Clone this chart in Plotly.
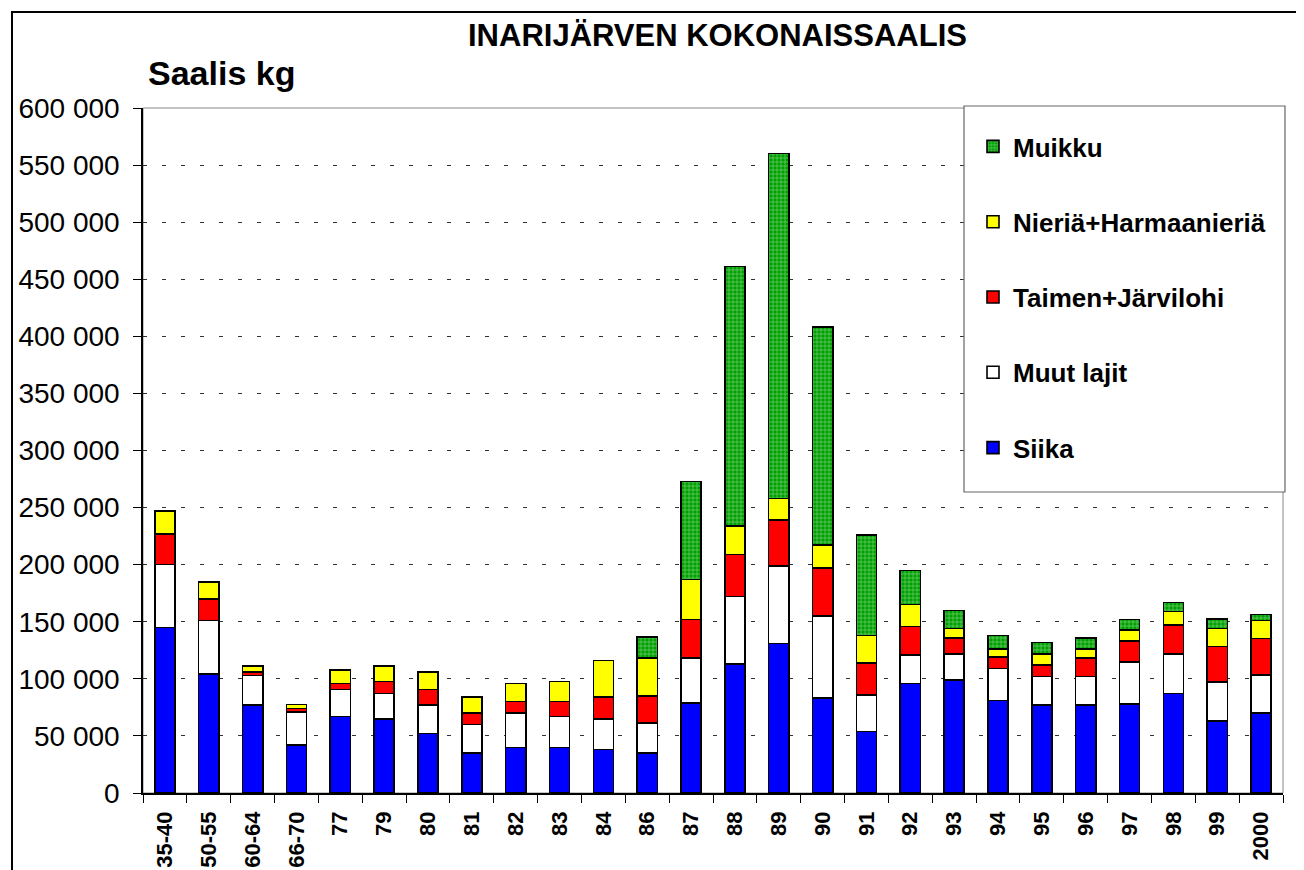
import plotly.graph_objects as go

# ─── Data ─────────────────────────────────────────────────────────────────────

YEARS = ['35-40', '50-55', '60-64', '66-70', '77', '79', '80', '81', '82', '83',
         '84', '86', '87', '88', '89', '90', '91', '92', '93', '94', '95', '96',
         '97', '98', '99', '2000']

SIIKA = [145000, 104000, 77000, 42000, 67000, 65000, 52000, 35000, 40000, 40000,
         38000, 35000, 79000, 113000, 131000, 83000, 54000, 96000, 99000, 81000,
         77000, 77000, 78000, 87000, 63000, 70000]
MUUT = [55000, 47000, 26000, 29000, 23500, 22000, 25000, 25000, 30000, 27000,
        27000, 26500, 39000, 59000, 68000, 72000, 32000, 25000, 23000, 28000,
        25000, 25000, 37000, 35000, 34000, 33500]
TAIMEN = [27000, 19000, 3000, 3000, 5500, 10500, 13500, 10000, 10000, 13000,
          19000, 23500, 34000, 37000, 40000, 42000, 28000, 25000, 14000, 10000,
          10000, 16000, 18000, 25000, 31500, 32000]
NIERIA = [20000, 15000, 5000, 3500, 12000, 13500, 15500, 14000, 16000, 17500,
          32000, 33500, 35000, 25000, 19000, 20000, 24000, 19000, 8000, 7000,
          10000, 8000, 10000, 12000, 15500, 15500]
MUIKKU = [None, None, None, None, None, None, None, None, None, None,
          None, 18000, 86000, 227000, 302000, 191000, 88000, 30000, 16000, 12000,
          10000, 10000, 9000, 8000, 8500, 5500]

Y_TICKS = [0, 50000, 100000, 150000, 200000, 250000, 300000, 350000, 400000,
           450000, 500000, 550000, 600000]

# ─── Style ────────────────────────────────────────────────────────────────────

FONT = 'Liberation Sans, Arial, sans-serif'
OFF = 8                                  # page body margin in the browser
W, H = 1304 - OFF, 870 - OFF
L, R, T, B = 143 - OFF, 21, 108 - OFF, 77   # screen plot area: x 143..1283, y 108..793
PW, PH = W - L - R, H - T - B


def px(x):
    """screen x (px) -> paper x"""
    return (x - OFF - L) / PW


def py(y):
    """screen y (px) -> paper y"""
    return (H - B - (y - OFF)) / PH


series = [
    ('Siika', SIIKA, dict(color='#0000FF')),
    ('Muut lajit', MUUT, dict(color='#FFFFFF')),
    ('Taimen+Järvilohi', TAIMEN, dict(color='#FF0000')),
    ('Nieriä+Harmaanieriä', NIERIA, dict(color='#FFFF00')),
    ('Muikku', MUIKKU, dict(color='#00A000',
                            pattern=dict(shape='+', fgcolor='#F0FFF0', bgcolor='#00A000',
                                         size=4, solidity=0.3))),
]

fig = go.Figure()
for i, (name, vals, marker) in enumerate(series):
    fig.add_trace(go.Bar(
        x=YEARS, y=vals, name=name,
        marker=dict(**marker, line=dict(color='black', width=1.6)),
        legendgroup=str(i), legendrank=len(series) - i,
        hovertemplate=f'{name}<br>%{{x}}: %{{y:,}} kg<extra></extra>',
    ))

fig.update_layout(
    width=W, height=H,
    margin=dict(l=L, r=R, t=T, b=B, pad=0),
    barmode='stack', bargap=0.54,
    paper_bgcolor='white', plot_bgcolor='white',
    separators='. ',
    font=dict(family=FONT, color='black'),
    showlegend=True,
    legend=dict(
        x=px(973), y=py(123), xanchor='left', yanchor='top',
        traceorder='grouped', tracegroupgap=38.5,
        font=dict(size=26, family=FONT, color='black', weight='bold'),
        bgcolor='rgba(0,0,0,0)', borderwidth=0,
    ),
    xaxis=dict(
        type='category', automargin=False,
        showgrid=False, showline=True, linecolor='black', linewidth=1.5,
        ticks='outside', tickson='boundaries', ticklen=8, tickcolor='black',
        ticklabelstandoff=8,
        tickangle=-90, tickfont=dict(size=22, family=FONT, weight='bold'),
    ),
    yaxis=dict(
        range=[0, 600000], tickvals=Y_TICKS, tickformat=',d', automargin=False,
        showgrid=True, gridcolor='#333333', gridwidth=1, griddash='4px,15px',
        showline=True, linecolor='black', linewidth=1.5, zeroline=False,
        ticks='outside', ticklen=8, tickcolor='black', ticklabelstandoff=8,
        tickfont=dict(size=28, family=FONT),
    ),
    shapes=[
        # plot-area frame
        dict(type='rect', xref='paper', yref='paper', x0=0, x1=1, y0=0, y1=1,
             line=dict(color='#888888', width=1), layer='below'),
        # legend box
        dict(type='rect', xref='paper', yref='paper', x0=px(964), x1=px(1285),
             y0=py(492), y1=py(106), line=dict(color='#666666', width=1.2),
             fillcolor='white', layer='above'),
        # outer chart border
        dict(type='rect', xref='paper', yref='paper', x0=px(12), x1=px(1330),
             y0=py(900), y1=py(12), line=dict(color='black', width=2)),
    ],
    annotations=[
        dict(text='<b>INARIJÄRVEN KOKONAISSAALIS</b>', xref='paper', yref='paper',
             x=px(717), y=py(35), showarrow=False, xanchor='center', yanchor='middle',
             font=dict(size=31, family=FONT)),
        dict(text='<b>Saalis kg</b>', xref='paper', yref='paper',
             x=px(146), y=py(73), showarrow=False, xanchor='left', yanchor='middle',
             font=dict(size=34, family=FONT)),
    ],
)

fig.write_html('out.html')
